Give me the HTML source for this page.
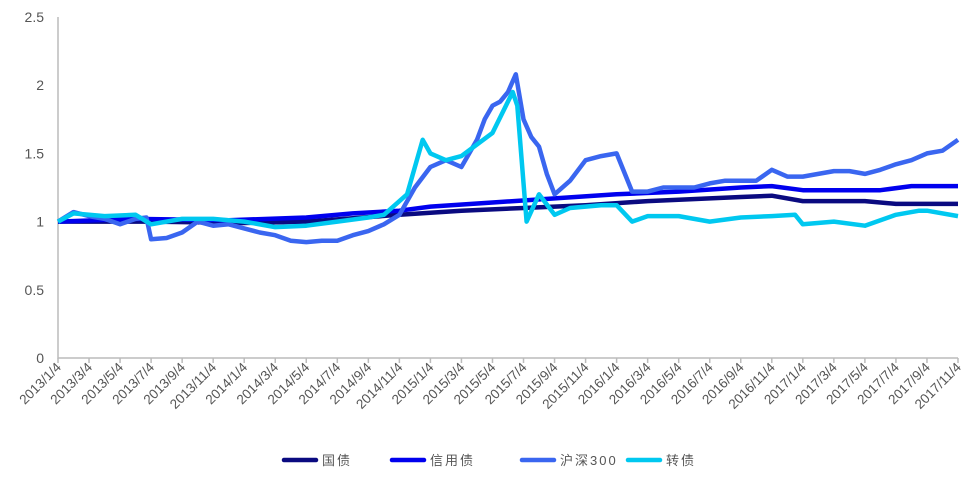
<!DOCTYPE html>
<html><head><meta charset="utf-8"><style>
body{margin:0;background:#fff;}
svg{display:block;font-family:"Liberation Sans","Noto Sans CJK SC",sans-serif;}
</style></head><body>
<svg id="c" width="978" height="477"></svg>
<script>
const yTicks=[0,0.5,1,1.5,2,2.5];
const xLabels=[];
for(let y=2013;y<=2017;y++)for(let m=1;m<=11;m+=2)xLabels.push(y+'/'+m+'/4');
const seriesNames=['国债','信用债','沪深300','转债'];
const colors=['#0a0a80','#0000ee','#3a66f0','#00c8f0'];
// x in months since 2013/1/4
const gzX=[0,6,12,16,22,26,30,34,38,42,44,46,48,52,54,58];
const gzY=[1.0,1.0,0.99,1.0,1.05,1.08,1.10,1.12,1.15,1.17,1.18,1.19,1.15,1.15,1.13,1.13];
const xyX=[0,5,11,16,19,22,24,28,32,36,40,44,46,48,53,55,58];
const xyY=[1.0,1.02,1.01,1.03,1.06,1.08,1.11,1.14,1.17,1.20,1.22,1.25,1.26,1.23,1.23,1.26,1.26];
const hsX=[0,1,2,3,4,5,5.7,6,7,8,9,10,11,12,13,14,15,16,17,18,19,20,21,22,23,24,25,26,27,27.5,28,28.5,29,29.5,30,30.5,31,31.5,32,33,34,35,36,37,38,39,40,41,42,43,44,45,46,47,48,49,50,51,52,53,54,55,56,57,58];
const hsY=[1.0,1.07,1.04,1.02,0.98,1.02,1.03,0.87,0.88,0.92,1.0,0.97,0.98,0.95,0.92,0.90,0.86,0.85,0.86,0.86,0.90,0.93,0.98,1.05,1.25,1.40,1.45,1.40,1.60,1.75,1.85,1.88,1.95,2.08,1.75,1.62,1.55,1.35,1.20,1.30,1.45,1.48,1.50,1.22,1.22,1.25,1.25,1.25,1.28,1.30,1.30,1.30,1.38,1.33,1.33,1.35,1.37,1.37,1.35,1.38,1.42,1.45,1.50,1.52,1.60];
const zzX=[0,1,3,5,6,8,10,12,14,16,18,20,21,22.5,23.5,24,25,26,28,29.3,29.6,30.2,31,32,33,35,36,37,38,40,42,44,46,47.5,48,50,52,54,55.5,56,58];
const zzY=[1.0,1.06,1.04,1.05,0.98,1.02,1.02,1.00,0.96,0.97,1.00,1.03,1.05,1.20,1.60,1.50,1.45,1.48,1.65,1.95,1.85,1.00,1.20,1.05,1.10,1.12,1.12,1.00,1.04,1.04,1.00,1.03,1.04,1.05,0.98,1.00,0.97,1.05,1.08,1.08,1.04];
const allX=[gzX,xyX,hsX,zzX], allY=[gzY,xyY,hsY,zzY];
const L=58,R=958,T=17,B=358;
const X=m=>L+m*(R-L)/58;
const Y=v=>B-v*(B-T)/2.5;
const ns='http://www.w3.org/2000/svg';
const svg=document.getElementById('c');
function mk(t,a,p){const e=document.createElementNS(ns,t);for(const k in a)e.setAttribute(k,a[k]);(p||svg).appendChild(e);return e;}
yTicks.forEach(v=>{
  const t=mk('text',{x:44,y:Y(v)+5,'text-anchor':'end','font-size':14,fill:'#555'});
  t.textContent=v;
  
  
});
const ax=mk('path',{d:`M${L} ${T}V${B}H${R}`,stroke:'#bbb',fill:'none','stroke-width':1.5});


xLabels.forEach((s,i)=>{
  const x=X(i*2);
  const tk=mk('line',{x1:x,x2:x,y1:B,y2:B+5,stroke:'#bbb','stroke-width':1.5});
  
  
  const t=mk('text',{x:x+4,y:B+10,'text-anchor':'end','font-size':13.5,fill:'#555',transform:`rotate(-45 ${x+4} ${B+10})`});
  t.textContent=s;
  
  
});
allX.forEach((xs,k)=>{
  const pts=xs.map((m,i)=>X(m).toFixed(1)+','+Y(allY[k][i]).toFixed(1)).join(' ');
  const p=mk('polyline',{points:pts,fill:'none',stroke:colors[k],'stroke-width':4.5,'stroke-linejoin':'round'});
  
  
});
const lx=[284,392,522,628];
seriesNames.forEach((n,k)=>{
  const g=mk('g',{});
  
  
  mk('line',{x1:lx[k],x2:lx[k]+32,y1:460,y2:460,stroke:colors[k],'stroke-width':4.5,'stroke-linecap':'round'},g);
  const t=mk('text',{x:lx[k]+38,y:465,'font-size':13,fill:'#555','letter-spacing':2},g);
  t.textContent=n;
});
</script>
</body></html>
